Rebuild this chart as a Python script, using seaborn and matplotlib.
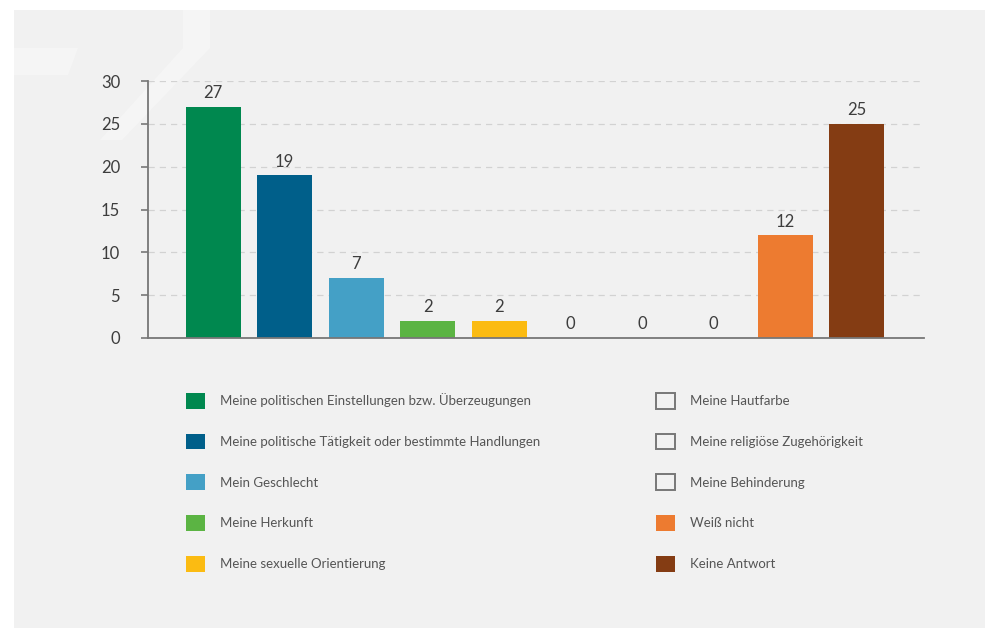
import matplotlib
matplotlib.use('Agg')
import matplotlib.pyplot as plt
from matplotlib.patches import Patch, Rectangle, Polygon
import seaborn as sns
import pandas as pd

# Daten
kategorien = [
    'Meine politischen Einstellungen bzw. Überzeugungen',
    'Meine politische Tätigkeit oder bestimmte Handlungen',
    'Mein Geschlecht',
    'Meine Herkunft',
    'Meine sexuelle Orientierung',
    'Meine Hautfarbe',
    'Meine religiöse Zugehörigkeit',
    'Meine Behinderung',
    'Weiß nicht',
    'Keine Antwort',
]
werte = [27, 19, 7, 2, 2, 0, 0, 0, 12, 25]
farben = ['#00884f', '#005f8a', '#44a0c6', '#5bb443', '#fbbb12',
          '#f1f1f1', '#f1f1f1', '#f1f1f1', '#ed7b30', '#843c13']
y_ticks = [0, 5, 10, 15, 20, 25, 30]

df = pd.DataFrame({'Kategorie': kategorien, 'Anzahl': werte})

sns.set_theme(style='white')
plt.rcParams['font.family'] = ['Lato', 'DejaVu Sans']

W, H = 986, 628
fig = plt.figure(figsize=(W / 100, H / 100), dpi=100)
fig.patch.set_facecolor('white')

# grauer Hintergrund
fig.add_artist(Rectangle((14 / W, 0), 971 / W, 618 / H, transform=fig.transFigure,
                         facecolor='#f1f1f1', edgecolor='none', zorder=-10))
# blasses Logo oben links
def fp(x, y):
    return (x / W, 1 - y / H)
fig.add_artist(Polygon([fp(183, 10), fp(210, 10), fp(210, 48), fp(122, 140), fp(100, 140), fp(183, 48)],
                       closed=True, transform=fig.transFigure, facecolor='white',
                       edgecolor='none', alpha=0.3, zorder=-9))
fig.add_artist(Polygon([fp(14, 48), fp(78, 48), fp(68, 75), fp(14, 75)],
                       closed=True, transform=fig.transFigure, facecolor='white',
                       edgecolor='none', alpha=0.3, zorder=-9))

ax = fig.add_axes([148 / W, 1 - 338 / H, (924 - 148) / W, (338 - 81) / H])
ax.set_facecolor('none')

sns.barplot(data=df, x='Kategorie', y='Anzahl', hue='Kategorie',
            palette=farben, legend=False, width=0.77, ax=ax,
            saturation=1, edgecolor='none')

for cont in ax.containers:
    ax.bar_label(cont, padding=4, fontsize=12, color='#3d3d3d')

ax.set_ylim(0, 30)
ax.set_xlim(-0.91, 9.94)
ax.set_yticks(y_ticks)
ax.set_yticklabels([str(t) for t in y_ticks], fontsize=12, color='#3d3d3d')
ax.set_xticks([])
ax.set_xlabel('')
ax.set_ylabel('')
ax.yaxis.grid(True, linestyle=(0, (5, 4)), color='#d2d2d2', linewidth=0.9)
ax.set_axisbelow(True)
for s in ['top', 'right']:
    ax.spines[s].set_visible(False)
for s in ['left', 'bottom']:
    ax.spines[s].set_color('#777777')
    ax.spines[s].set_linewidth(1.3)
ax.tick_params(axis='y', left=True, length=5, width=1.2, color='#777777', pad=15)

# Legende in zwei Spalten
handles = []
for name, f in zip(kategorien, farben):
    if f == '#f1f1f1':
        handles.append(Patch(facecolor='none', edgecolor='#777777', linewidth=1.4, label=name))
    else:
        handles.append(Patch(facecolor=f, edgecolor='none', label=name))

leg_kw = dict(frameon=False, fontsize=9.5, handlelength=1.45, handleheight=1.45,
              handletextpad=1.15, labelspacing=1.9, labelcolor='#555555',
              loc='upper left', borderpad=0, borderaxespad=0)
leg1 = fig.legend(handles=handles[:5], bbox_to_anchor=(186 / W, 1 - 393 / H), **leg_kw)
leg2 = fig.legend(handles=handles[5:], bbox_to_anchor=(656 / W, 1 - 393 / H), **leg_kw)

fig.savefig('out.png', dpi=100, facecolor=fig.get_facecolor())
